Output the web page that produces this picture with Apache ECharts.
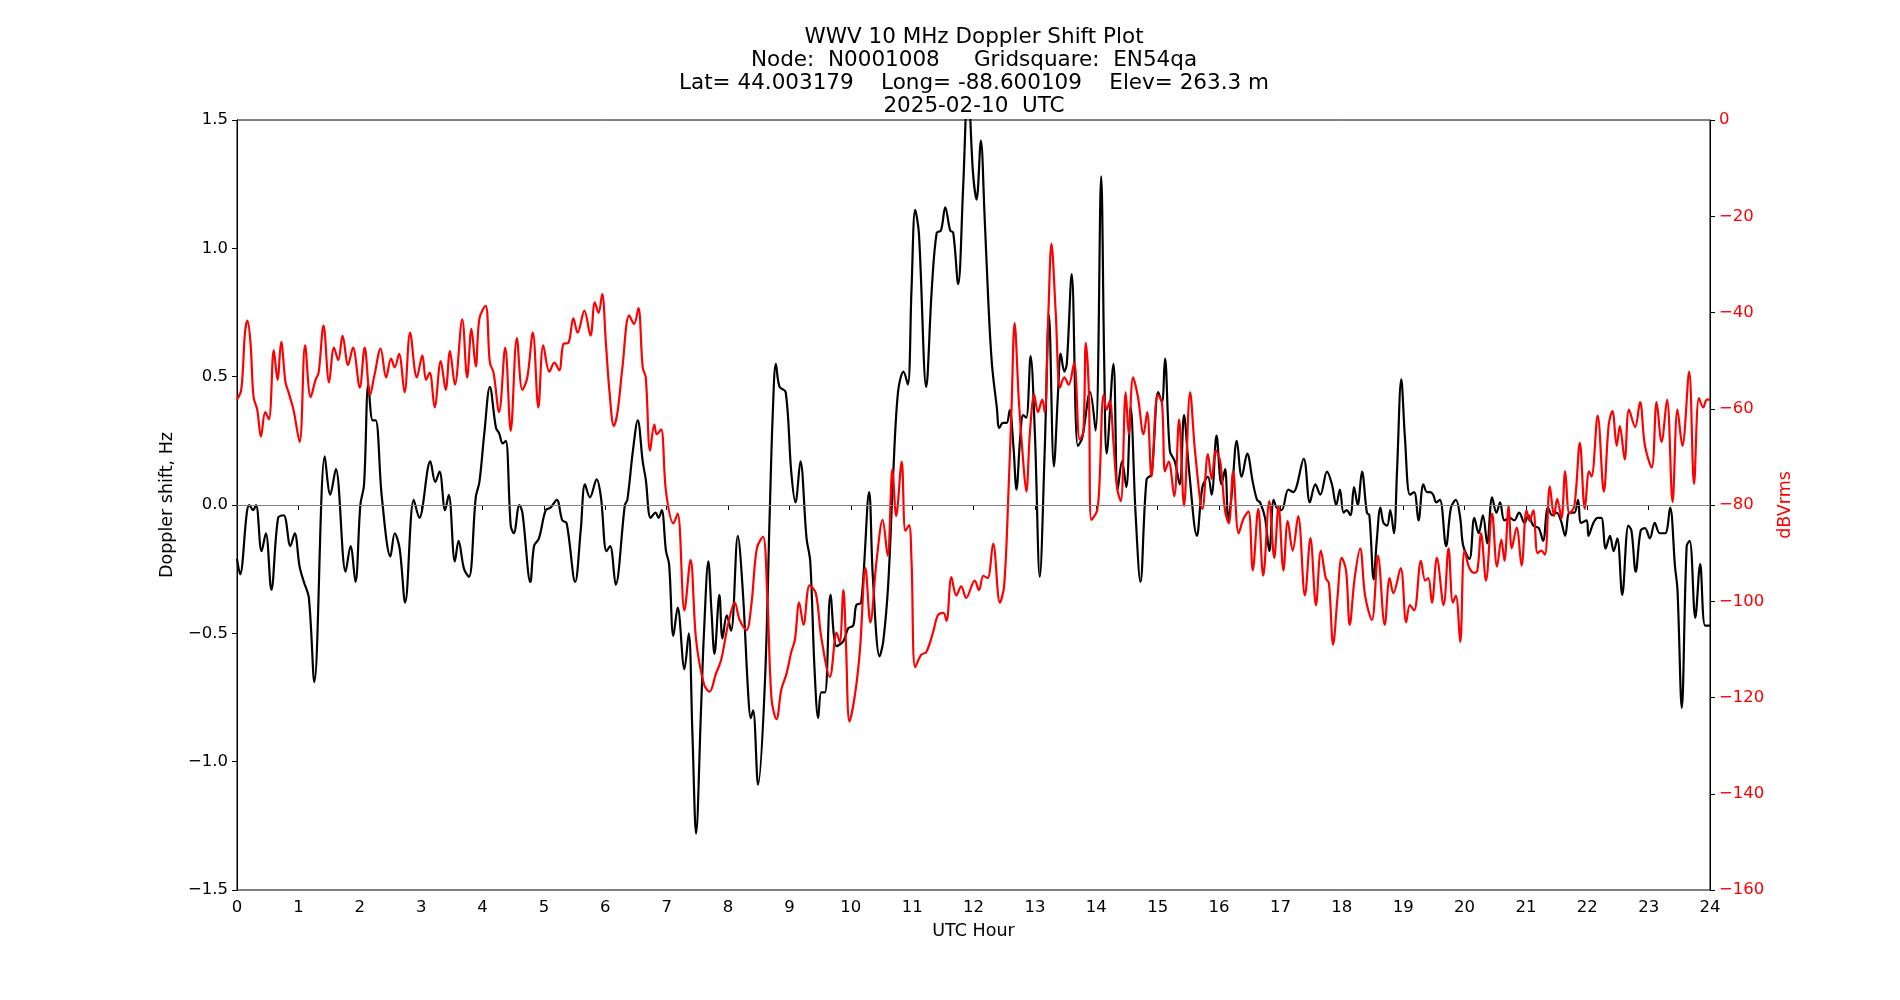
<!DOCTYPE html>
<html>
<head>
<meta charset="utf-8">
<title>WWV 10 MHz Doppler Shift Plot</title>
<script src="https://cdn.jsdelivr.net/npm/echarts@6/dist/echarts.min.js"></script>
<style>
  body { margin: 0; background: #fff; }
  #chart { width: 1900px; height: 1000px; }
</style>
</head>
<body>
<div id="chart"></div>
<script>
// doppler shift (black, left axis)
var dopplerHours = [0, 0.05, 0.16, 0.2, 0.26, 0.31, 0.4, 0.47, 0.56, 0.67, 0.76, 0.87, 0.94, 1.02, 1.09, 1.17, 1.26, 1.43, 1.52, 1.61,
  1.77, 1.85, 1.93, 2.01, 2.07, 2.14, 2.21, 2.26, 2.36, 2.5, 2.57, 2.65, 2.74, 2.88, 2.97, 3.15, 3.23, 3.3, 3.39, 3.45,
  3.55, 3.61, 3.7, 3.78, 3.89, 3.95, 4.03, 4.12, 4.22, 4.27, 4.33, 4.38, 4.46, 4.51, 4.6, 4.65, 4.78, 4.84, 4.92, 5.03,
  5.11, 5.21, 5.3, 5.37, 5.51, 5.6, 5.67, 5.75, 5.86, 5.93, 6.02, 6.08, 6.17, 6.32, 6.36, 6.45, 6.53, 6.61, 6.66, 6.74,
  6.82, 6.87, 6.92, 6.99, 7.04, 7.11, 7.18, 7.29, 7.36, 7.42, 7.48, 7.56, 7.61, 7.68, 7.73, 7.78, 7.86, 7.91, 7.98, 8.05,
  8.16, 8.24, 8.33, 8.37, 8.41, 8.49, 8.6, 8.68, 8.73, 8.78, 8.84, 8.94, 9.03, 9.1, 9.18, 9.28, 9.34, 9.41, 9.47, 9.52,
  9.58, 9.67, 9.77, 9.88, 9.96, 10.04, 10.09, 10.17, 10.3, 10.36, 10.47, 10.53, 10.61, 10.69, 10.77, 10.86, 10.93, 10.99, 11.05, 11.11,
  11.23, 11.32, 11.4, 11.47, 11.54, 11.62, 11.67, 11.75, 11.83, 11.91, 11.99, 12.05, 12.12, 12.18, 12.24, 12.3, 12.38, 12.42, 12.48, 12.54,
  12.59, 12.65, 12.7, 12.76, 12.81, 12.86, 12.93, 13.0, 13.08, 13.16, 13.23, 13.31, 13.38, 13.42, 13.48, 13.52, 13.6, 13.7, 13.77, 13.9,
  13.99, 14.08, 14.13, 14.17, 14.28, 14.35, 14.42, 14.49, 14.56, 14.64, 14.72, 14.82, 14.9, 15.01, 15.07, 15.12, 15.2, 15.28, 15.36, 15.43,
  15.51, 15.64, 15.73, 15.82, 15.88, 15.96, 16.04, 16.1, 16.15, 16.21, 16.29, 16.37, 16.46, 16.55, 16.62, 16.67, 16.75, 16.82, 16.89, 16.94,
  17.02, 17.13, 17.21, 17.38, 17.48, 17.57, 17.65, 17.76, 17.84, 17.91, 17.97, 18.03, 18.08, 18.14, 18.2, 18.26, 18.33, 18.41, 18.45, 18.52,
  18.57, 18.63, 18.68, 18.74, 18.79, 18.85, 18.9, 18.97, 19.03, 19.11, 19.18, 19.25, 19.33, 19.39, 19.44, 19.49, 19.54, 19.6, 19.7, 19.78,
  19.86, 19.93, 19.98, 20.08, 20.16, 20.23, 20.3, 20.37, 20.45, 20.52, 20.58, 20.65, 20.74, 20.81, 20.89, 20.98, 21.04, 21.12, 21.21, 21.28,
  21.36, 21.43, 21.5, 21.57, 21.64, 21.71, 21.79, 21.85, 21.9, 21.99, 22.02, 22.1, 22.17, 22.23, 22.3, 22.37, 22.43, 22.49, 22.57, 22.67,
  22.72, 22.79, 22.87, 22.94, 23.02, 23.1, 23.18, 23.27, 23.35, 23.43, 23.47, 23.54, 23.62, 23.67, 23.76, 23.84, 23.92, 24.0];
var dopplerHz = [-0.21, -0.27, -0.03, 0.0, -0.02, 0.0, -0.18, -0.11, -0.33, -0.05, -0.04, -0.16, -0.11, -0.24, -0.30, -0.36, -0.69, 0.19, 0.04, 0.14,
  -0.26, -0.16, -0.30, 0.0, 0.08, 0.47, 0.33, 0.33, 0.03, -0.20, -0.11, -0.17, -0.38, 0.02, -0.05, 0.17, 0.09, 0.13, -0.02, 0.04,
  -0.22, -0.14, -0.25, -0.28, 0.03, 0.09, 0.28, 0.46, 0.30, 0.28, 0.24, 0.25, -0.08, -0.11, 0.0, -0.03, -0.30, -0.16, -0.13, -0.02,
  -0.01, 0.02, -0.06, -0.07, -0.30, -0.10, 0.08, 0.03, 0.10, 0.03, -0.18, -0.16, -0.31, 0.0, 0.02, 0.21, 0.33, 0.17, 0.10, -0.05,
  -0.03, -0.05, -0.02, -0.18, -0.23, -0.51, -0.40, -0.64, -0.50, -0.89, -1.28, -0.80, -0.49, -0.22, -0.41, -0.58, -0.35, -0.52, -0.43, -0.49,
  -0.12, -0.33, -0.74, -0.83, -0.80, -1.09, -0.70, -0.03, 0.36, 0.55, 0.46, 0.44, 0.13, 0.01, 0.17, -0.13, -0.22, -0.64, -0.83, -0.73,
  -0.73, -0.35, -0.55, -0.53, -0.48, -0.47, -0.39, -0.38, 0.05, -0.28, -0.59, -0.53, -0.31, 0.11, 0.44, 0.52, 0.47, 0.84, 1.15, 1.06,
  0.46, 0.84, 1.06, 1.07, 1.16, 1.07, 1.06, 0.86, 1.23, 1.65, 1.30, 1.19, 1.42, 1.13, 0.80, 0.55, 0.38, 0.30, 0.32, 0.32,
  0.37, 0.23, 0.06, 0.26, 0.35, 0.34, 0.58, 0.28, -0.28, 0.21, 0.74, 0.15, 0.45, 0.59, 0.52, 0.55, 0.90, 0.23, 0.26, 0.44,
  0.29, 1.28, 0.55, 0.20, 0.55, 0.06, 0.17, 0.07, 0.38, -0.03, -0.30, 0.10, 0.12, 0.44, 0.40, 0.57, 0.21, 0.17, 0.08, 0.35,
  0.14, -0.12, 0.07, 0.11, 0.04, 0.27, 0.08, 0.14, -0.06, 0.05, 0.25, 0.11, 0.20, 0.09, 0.02, 0.01, -0.05, -0.18, 0.02, -0.01,
  -0.02, 0.06, 0.05, 0.18, 0.01, 0.08, 0.04, 0.13, 0.08, 0.0, 0.06, -0.03, -0.02, -0.04, 0.07, 0.0, 0.13, -0.03, -0.04, -0.29,
  -0.14, -0.01, -0.07, -0.08, -0.02, -0.11, 0.13, 0.49, 0.26, 0.04, 0.05, -0.06, 0.08, 0.05, 0.05, 0.04, 0.01, 0.02, -0.16, -0.01,
  0.02, -0.05, -0.16, -0.21, -0.05, -0.11, -0.04, -0.15, 0.03, -0.03, 0.01, -0.06, -0.05, -0.06, -0.03, -0.07, -0.04, -0.08, -0.09, -0.14,
  -0.01, -0.04, -0.03, -0.06, -0.12, -0.03, -0.03, 0.02, -0.07, -0.06, -0.12, -0.07, -0.05, -0.05, -0.17, -0.12, -0.18, -0.13, -0.35, -0.08,
  -0.10, -0.26, -0.10, -0.09, -0.13, -0.07, -0.11, -0.11, -0.01, -0.24, -0.33, -0.79, -0.16, -0.14, -0.44, -0.23, -0.47, -0.47];

// signal level (red, right axis)
var powerHours = [0, 0.07, 0.13, 0.17, 0.22, 0.27, 0.33, 0.39, 0.46, 0.52, 0.6, 0.66, 0.72, 0.79, 0.84, 0.92, 1.02, 1.11, 1.2, 1.28,
  1.33, 1.41, 1.5, 1.58, 1.65, 1.72, 1.81, 1.89, 2.0, 2.08, 2.17, 2.24, 2.34, 2.43, 2.51, 2.57, 2.64, 2.73, 2.82, 2.93,
  3.02, 3.08, 3.14, 3.22, 3.32, 3.4, 3.47, 3.55, 3.67, 3.75, 3.82, 3.89, 3.95, 4.05, 4.12, 4.18, 4.27, 4.37, 4.46, 4.56,
  4.65, 4.73, 4.82, 4.91, 4.99, 5.09, 5.17, 5.25, 5.32, 5.4, 5.48, 5.55, 5.66, 5.76, 5.83, 5.89, 5.95, 6.01, 6.07, 6.14,
  6.2, 6.28, 6.39, 6.47, 6.54, 6.61, 6.66, 6.73, 6.8, 6.84, 6.91, 6.99, 7.11, 7.18, 7.29, 7.39, 7.48, 7.61, 7.7, 7.8,
  7.89, 8.0, 8.11, 8.19, 8.3, 8.38, 8.47, 8.57, 8.64, 8.71, 8.79, 8.87, 8.95, 9.03, 9.09, 9.16, 9.23, 9.33, 9.43, 9.52,
  9.66, 9.77, 9.82, 9.88, 9.92, 9.98, 10.07, 10.15, 10.24, 10.32, 10.42, 10.52, 10.6, 10.68, 10.74, 10.83, 10.89, 10.95, 10.99, 11.05,
  11.15, 11.23, 11.34, 11.42, 11.51, 11.56, 11.64, 11.72, 11.8, 11.88, 12.02, 12.09, 12.16, 12.23, 12.32, 12.43, 12.5, 12.57, 12.62, 12.67,
  12.74, 12.81, 12.86, 12.92, 12.99, 13.05, 13.12, 13.16, 13.22, 13.27, 13.34, 13.41, 13.48, 13.55, 13.64, 13.73, 13.79, 13.83, 13.88, 13.92,
  14.01, 14.05, 14.12, 14.17, 14.22, 14.28, 14.34, 14.4, 14.48, 14.53, 14.6, 14.68, 14.77, 14.83, 14.9, 15.0, 15.07, 15.12, 15.18, 15.27,
  15.35, 15.43, 15.53, 15.61, 15.73, 15.82, 15.88, 15.95, 16.02, 16.1, 16.16, 16.23, 16.32, 16.4, 16.48, 16.55, 16.64, 16.72, 16.82, 16.9,
  16.97, 17.05, 17.12, 17.2, 17.29, 17.4, 17.49, 17.58, 17.66, 17.74, 17.79, 17.86, 17.93, 18.0, 18.07, 18.13, 18.21, 18.3, 18.38, 18.49,
  18.59, 18.7, 18.78, 18.84, 18.96, 19.05, 19.11, 19.18, 19.29, 19.36, 19.41, 19.47, 19.55, 19.66, 19.74, 19.81, 19.86, 19.93, 20.0, 20.08,
  20.16, 20.21, 20.27, 20.35, 20.45, 20.53, 20.6, 20.65, 20.72, 20.77, 20.85, 20.93, 21.01, 21.06, 21.12, 21.19, 21.25, 21.31, 21.39, 21.46,
  21.51, 21.58, 21.64, 21.71, 21.79, 21.88, 21.96, 22.03, 22.07, 22.17, 22.27, 22.35, 22.41, 22.48, 22.53, 22.61, 22.68, 22.78, 22.86, 22.94,
  23.05, 23.13, 23.21, 23.3, 23.39, 23.47, 23.55, 23.66, 23.74, 23.82, 23.89, 23.95, 24.0];
var powerDb = [-58.1, -56, -44.2, -41.7, -46.3, -57.6, -60.2, -65.8, -60.7, -62.2, -47.8, -54, -46.1, -54.5, -56.6, -60.2, -66.9, -46.8, -57.6, -54,
  -52.5, -42.7, -54.5, -47.3, -49.9, -44.8, -50.9, -47.3, -55.6, -47.3, -57.1, -53, -47.5, -53.5, -49.6, -51.4, -48.6, -56.6, -44.2, -53.5,
  -48.9, -54, -52.5, -59.7, -50.1, -56.1, -48, -55, -41.4, -53.5, -43.4, -51.2, -41.2, -38.6, -50.4, -52.5, -60.7, -47.3, -64.6, -45.3,
  -56.1, -53.5, -44.2, -59.7, -46.8, -52.3, -50.4, -52, -46.5, -46.3, -41.2, -44.2, -39.6, -44.8, -37.9, -40.1, -36.2, -46.3, -56.6, -63.6,
  -60.7, -51.4, -40.6, -42.4, -39.1, -51.4, -53.5, -68.7, -63.3, -65.3, -64.3, -77.2, -83.8, -81.8, -101.9, -91.4, -108, -117.3, -118.8, -115.2,
  -112.1, -104.9, -100.3, -103.9, -106, -100.8, -89, -86.6, -98.8, -120.4, -124.5, -118.3, -115.2, -110.6, -108, -100.3, -104.9, -96.7, -98.3, -107.5,
  -115.7, -106.5, -108.5, -97.7, -108, -125, -119.3, -110.1, -93.1, -104.4, -91.6, -83.1, -90.5, -72.5, -82.3, -71, -85.4, -84.2, -91.6, -113.7,
  -111.1, -110.6, -106.5, -102.9, -102.4, -104.1, -95, -98.8, -96.9, -99.3, -95.7, -97.7, -94.7, -95.2, -88, -100.3, -96.7, -77.2, -59.7, -42.2,
  -58.6, -71, -77.2, -64.8, -57.1, -60.7, -58.1, -60.7, -40.1, -25.7, -40.1, -55.6, -53.5, -55, -50.4, -66.4, -64.8, -46.3, -56.6, -83.1,
  -81.3, -76.1, -57.1, -60.2, -58.4, -66.9, -76.6, -79.2, -56.6, -65.3, -53.5, -57.6, -65.3, -60.7, -74.1, -57.1, -58.6, -73, -71, -78.2,
  -62.2, -80.2, -56.6, -68.9, -80.8, -69.4, -74.6, -68.7, -71, -81.3, -83.8, -73, -85.9, -82.8, -81.3, -93.6, -80.8, -94.7, -79.2, -91,
  -80.2, -93.6, -83.3, -89.5, -82.3, -98.8, -86.9, -100.8, -89.5, -95.2, -96.2, -109, -99.3, -91, -93.6, -104.9, -95.2, -89, -98.8, -103.9,
  -90.5, -104.9, -95.2, -98.3, -93.1, -104.4, -100.8, -101.9, -91.6, -95.7, -95.2, -100.3, -91, -100.8, -89, -100.3, -98.8, -108.5, -89.5, -93.1,
  -94.1, -93.6, -85.9, -95.7, -81.8, -92.8, -87.2, -91.6, -80.2, -89, -84.7, -92.6, -81.1, -83.3, -81.1, -90, -89.5, -90.3, -76.1, -82.3,
  -78.7, -82.8, -73, -81.8, -80.2, -67.1, -80.8, -73, -74.1, -61.4, -77.2, -63.3, -60.5, -67.7, -63.6, -70.5, -60.2, -63.8, -58.6, -67.7,
  -72.2, -58.6, -66.9, -58.1, -79.4, -60.2, -67.7, -52.3, -75.6, -57.8, -59.7, -58.1, -58.1];

var titleLines = [
  'WWV 10 MHz Doppler Shift Plot',
  'Node:  N0001008     Gridsquare:  EN54qa',
  'Lat= 44.003179    Long= -88.600109    Elev= 263.3 m',
  '2025-02-10  UTC'
];

// matplotlib style minus sign
function minus(s) {
  return String(s).replace('-', '\u2212');
}

function pairs(xs, ys) {
  return xs.map(function (x, i) { return [x, ys[i]]; });
}

var FONT = '"DejaVu Sans", sans-serif';
var TICK_SIZE = 16.5;
var LABEL_SIZE = 17.5;
var chart = echarts.init(document.getElementById('chart'));

chart.setOption({
  animation: false,
  backgroundColor: '#fff',
  graphic: [{
    type: 'text',
    x: 974,
    y: 25.5,
    style: {
      text: titleLines.join('\n'),
      font: '21.5px ' + FONT,
      fill: '#000',
      textAlign: 'center',
      textVerticalAlign: 'top',
      lineHeight: 23
    }
  }],
  grid: {
    left: 237, right: 190, top: 120, bottom: 110,
    show: true, borderColor: '#000', borderWidth: 1, backgroundColor: 'transparent'
  },
  xAxis: {
    type: 'value', min: 0, max: 24, interval: 1,
    name: 'UTC Hour', nameLocation: 'middle', nameGap: 32,
    nameTextStyle: { color: '#000', fontSize: LABEL_SIZE, fontFamily: FONT },
    axisLine: { lineStyle: { color: '#000', width: 1 } },
    axisTick: { length: 5, lineStyle: { color: '#000' } },
    axisLabel: { color: '#000', fontSize: TICK_SIZE, fontFamily: FONT, margin: 9 },
    splitLine: { show: false }
  },
  yAxis: [{
    type: 'value', min: -1.5, max: 1.5, interval: 0.5, position: 'left',
    name: 'Doppler shift, Hz', nameLocation: 'middle', nameGap: 61, nameRotate: 90,
    nameTextStyle: { color: '#000', fontSize: LABEL_SIZE, fontFamily: FONT },
    axisLine: { show: true, lineStyle: { color: '#000', width: 1 } },
    axisTick: { show: true, length: 5, lineStyle: { color: '#000' } },
    axisLabel: {
      color: '#000', fontSize: TICK_SIZE, fontFamily: FONT, margin: 9,
      formatter: function (v) { return minus(v.toFixed(1)); }
    },
    splitLine: { show: false }
  }, {
    type: 'value', min: -160, max: 0, interval: 20, position: 'right',
    name: 'dBVrms', nameLocation: 'middle', nameGap: 66, nameRotate: 90,
    nameTextStyle: { color: '#ff0000', fontSize: LABEL_SIZE, fontFamily: FONT },
    axisLine: { show: true, lineStyle: { color: '#000', width: 1 } },
    axisTick: { show: true, length: 5, lineStyle: { color: '#000' } },
    axisLabel: {
      color: '#ff0000', fontSize: TICK_SIZE, fontFamily: FONT, margin: 9,
      formatter: function (v) { return minus(v); }
    },
    splitLine: { show: false }
  }],
  series: [{
    name: 'Doppler shift',
    type: 'line',
    yAxisIndex: 0,
    data: pairs(dopplerHours, dopplerHz),
    showSymbol: false,
    smooth: 0.35,
    clip: true,
    lineStyle: { color: '#000', width: 2.2 },
    markLine: {
      silent: true,
      symbol: ['none', 'none'],
      label: { show: false },
      lineStyle: { color: '#808080', width: 1, type: 'solid' },
      data: [{ yAxis: 0 }]
    },
    z: 2
  }, {
    name: 'Power',
    type: 'line',
    yAxisIndex: 1,
    data: pairs(powerHours, powerDb),
    showSymbol: false,
    smooth: 0.35,
    clip: true,
    lineStyle: { color: '#ff0000', width: 2.2 },
    z: 3
  }]
});
</script>
</body>
</html>
